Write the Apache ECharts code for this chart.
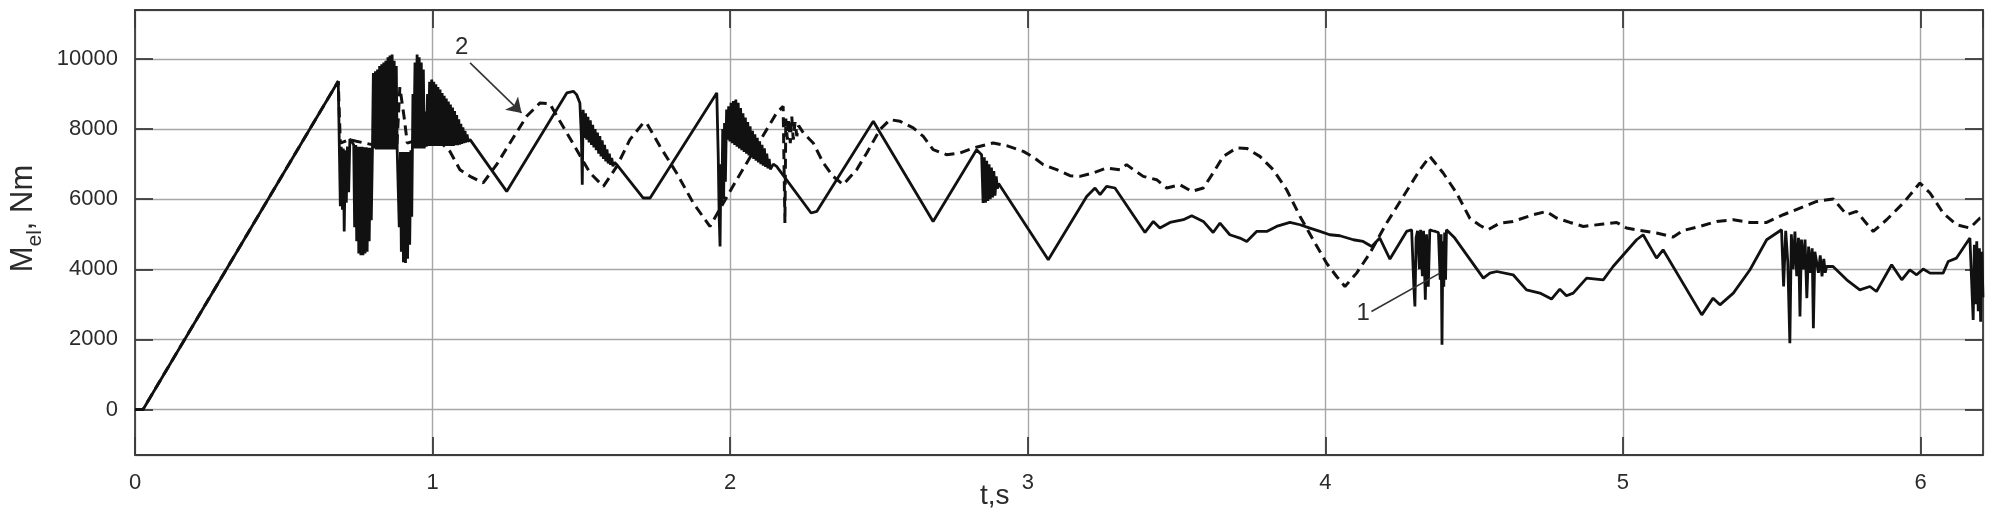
<!DOCTYPE html>
<html>
<head>
<meta charset="utf-8">
<title>M_el(t)</title>
<script src="https://cdn.jsdelivr.net/npm/echarts@6/dist/echarts.min.js"></script>
<style>
  html, body { margin: 0; padding: 0; background: #fff; }
  #chart { width: 1994px; height: 531px; }
</style>
</head>
<body>
<div id="chart"></div>
<script>
// curve 1 (solid) : [t, M_el]
var curve1 = [
  [0, 0], [0.027, 0], [0.683, 9366],
  [0.690, 5800], [0.693, 7500], [0.697, 5700], [0.700, 7450], [0.703, 5080], [0.707, 7400], [0.710, 5900], [0.714, 7500], [0.718, 6200], [0.722, 7720], [0.728, 7650],
  [0.735, 7550], [0.738, 5200], [0.742, 7550], [0.745, 4800], [0.749, 7500], [0.752, 4450], [0.756, 7500], [0.759, 4400], [0.763, 7500], [0.766, 4400], [0.770, 7480], [0.773, 4450], [0.777, 7480], [0.780, 4500], [0.784, 7470], [0.787, 4800], [0.791, 7470], [0.794, 5400], [0.798, 7460],
  [0.801, 9600], [0.804, 7450], [0.808, 9650], [0.811, 7420], [0.815, 9700], [0.818, 7420], [0.822, 9800], [0.825, 7420], [0.829, 9850], [0.832, 7420], [0.836, 9900], [0.839, 7420], [0.843, 9950], [0.846, 7420], [0.850, 10050], [0.853, 7420], [0.857, 10100], [0.860, 7420], [0.864, 10130], [0.867, 7420], [0.871, 9950], [0.874, 7420], [0.878, 9800], [0.881, 7420],
  [0.885, 7400], [0.888, 5200], [0.892, 7350], [0.895, 4500], [0.899, 7350], [0.902, 4200], [0.906, 7350], [0.909, 4180], [0.913, 7350], [0.916, 4300], [0.920, 7350], [0.923, 4700], [0.927, 7400], [0.930, 5500],
  [0.934, 9000], [0.937, 7450], [0.941, 9900], [0.944, 7450], [0.948, 10130], [0.951, 7450], [0.955, 10050], [0.958, 7450], [0.962, 9900], [0.965, 7450], [0.969, 9700], [0.972, 7450], [0.976, 8500], [0.979, 7500],
  [0.983, 9000], [0.986, 7520], [0.990, 9350], [0.993, 7520], [0.997, 9414], [1.000, 7520], [1.004, 9350], [1.007, 7520], [1.011, 9280], [1.014, 7520], [1.018, 9200], [1.021, 7520], [1.025, 9128], [1.028, 7520], [1.032, 9030], [1.035, 7520], [1.039, 8950], [1.042, 7520], [1.046, 8870], [1.049, 7520], [1.053, 8790], [1.056, 7520], [1.060, 8700], [1.063, 7520], [1.067, 8620], [1.070, 7520], [1.074, 8520], [1.077, 7540], [1.081, 8400], [1.084, 7540], [1.088, 8280], [1.091, 7560], [1.095, 8150], [1.098, 7580], [1.102, 8050], [1.105, 7600], [1.109, 7950], [1.112, 7620], [1.116, 7850], [1.119, 7650], [1.126, 7700],
  [1.249, 6223], [1.451, 9034], [1.473, 9080], [1.484, 8985],
  [1.495, 8748], [1.500, 7800], [1.503, 6414], [1.506, 8550], [1.510, 7750], [1.514, 8450], [1.518, 7700], [1.522, 8350], [1.526, 7620], [1.530, 8250], [1.534, 7550], [1.538, 8120], [1.542, 7480], [1.546, 8000], [1.550, 7400], [1.554, 7900], [1.558, 7300], [1.562, 7800], [1.566, 7220], [1.570, 7680], [1.574, 7150], [1.578, 7550], [1.582, 7080], [1.586, 7420], [1.590, 7020], [1.594, 7300], [1.598, 6980], [1.602, 7180], [1.606, 6940], [1.612, 7050], [1.619, 6986],
  [1.708, 6034], [1.731, 6034], [1.955, 9034],
  [1.960, 7200], [1.963, 5500], [1.966, 4651], [1.969, 7000], [1.972, 5900], [1.975, 8000], [1.978, 6000], [1.981, 8177], [1.984, 6500], [1.988, 8557], [1.991, 7700], [1.995, 8650], [1.999, 7650], [2.003, 8750], [2.007, 7600], [2.011, 8800], [2.015, 7550], [2.019, 8843], [2.023, 7500], [2.027, 8750], [2.031, 7450], [2.035, 8600], [2.039, 7400], [2.043, 8450], [2.047, 7350], [2.051, 8330], [2.055, 7300], [2.059, 8200], [2.063, 7250], [2.067, 8080], [2.071, 7200], [2.075, 7950], [2.079, 7150], [2.083, 7850], [2.087, 7100], [2.091, 7750], [2.095, 7050], [2.099, 7650], [2.103, 7000], [2.107, 7550], [2.111, 6960], [2.115, 7450], [2.119, 6920], [2.123, 7300], [2.127, 6880], [2.131, 7150], [2.135, 6850], [2.145, 7000], [2.156, 6937],
  [2.272, 5606], [2.291, 5651], [2.481, 8223], [2.682, 5366], [2.828, 7414], [2.845, 7271],
  [2.850, 5891], [2.854, 7200], [2.858, 5900], [2.862, 7100], [2.866, 5950], [2.870, 7000], [2.874, 6000], [2.878, 6900], [2.882, 6050], [2.886, 6800], [2.890, 6100], [2.894, 6650], [2.898, 6300], [2.902, 6450],
  [3.069, 4271], [3.198, 6080], [3.226, 6320], [3.243, 6129], [3.265, 6366], [3.293, 6320], [3.394, 5051], [3.422, 5366], [3.444, 5177], [3.478, 5337], [3.523, 5414], [3.551, 5529], [3.590, 5366], [3.623, 5051], [3.646, 5320], [3.679, 4986], [3.713, 4891], [3.736, 4794], [3.769, 5080], [3.803, 5080], [3.836, 5223], [3.881, 5337], [3.915, 5271], [3.948, 5177], [3.982, 5080], [4.015, 4986], [4.049, 4957], [4.094, 4843], [4.127, 4794], [4.156, 4651], [4.183, 4891], [4.217, 4291], [4.273, 5080], [4.290, 5129],
  [4.297, 3600], [4.301, 2937], [4.305, 4900], [4.310, 5100], [4.316, 4000], [4.320, 5129], [4.326, 3800], [4.330, 5100], [4.336, 3129], [4.340, 5000], [4.346, 3500], [4.351, 5129], [4.360, 5100], [4.370, 5080], [4.380, 5050], [4.386, 3700], [4.389, 5000], [4.392, 1850], [4.395, 4800], [4.398, 3500], [4.401, 5050], [4.404, 3700], [4.407, 5129],
  [4.435, 4891], [4.531, 3749], [4.553, 3891], [4.576, 3937], [4.631, 3843], [4.676, 3414], [4.721, 3320], [4.760, 3149], [4.788, 3434], [4.810, 3243], [4.833, 3320], [4.878, 3749], [4.934, 3700], [4.967, 4080], [5.046, 4843], [5.068, 4986], [5.113, 4320], [5.135, 4557], [5.265, 2700], [5.303, 3177], [5.326, 2986], [5.371, 3320], [5.427, 3986], [5.483, 4843], [5.533, 5129],
  [5.540, 3509], [5.547, 5100], [5.554, 4200], [5.561, 1891], [5.566, 5000], [5.572, 4000], [5.578, 5080], [5.584, 3800], [5.590, 4900], [5.595, 2651], [5.600, 4850], [5.606, 4000], [5.612, 4850], [5.618, 3177], [5.624, 4650], [5.630, 3900], [5.636, 4600], [5.640, 2320], [5.645, 4500], [5.651, 4463], [5.657, 3900], [5.663, 4400], [5.669, 3800], [5.675, 4300], [5.680, 3900],
  [5.684, 4080], [5.706, 4080], [5.752, 3700], [5.796, 3414], [5.830, 3509], [5.852, 3366], [5.903, 4129], [5.937, 3700], [5.964, 3986], [5.987, 3843], [6.009, 4006], [6.032, 3891], [6.076, 3891], [6.093, 4223], [6.121, 4320], [6.166, 4891],
  [6.177, 2557], [6.181, 4700], [6.185, 3000], [6.189, 4800], [6.194, 2800], [6.198, 4600], [6.202, 2500], [6.206, 4500], [6.210, 3200]
];

// curve 2 (dashed)
var curve2 = [
  [0, 0], [0.027, 0], [0.683, 9366], [0.690, 7600], [0.72, 7700], [0.80, 7550], [0.88, 7500], [0.89, 9200], [0.905, 8300], [0.915, 7600],
  [0.95, 7700], [1.00, 7700], [1.03, 7600], [1.058, 7366], [1.092, 6843], [1.126, 6652], [1.170, 6463], [1.215, 6986], [1.260, 7606], [1.316, 8366], [1.361, 8748], [1.394, 8720],
  [1.428, 8223], [1.484, 7414], [1.529, 6749], [1.574, 6366], [1.619, 6937], [1.663, 7700], [1.708, 8177], [1.719, 8177], [1.764, 7509], [1.820, 6749], [1.876, 5891], [1.932, 5223],
  [1.977, 5891], [2.022, 6557], [2.089, 7509], [2.156, 8462], [2.178, 8652],
  [2.182, 8700], [2.184, 5320], [2.187, 8300], [2.192, 7700], [2.197, 8300], [2.202, 7600], [2.207, 8366], [2.212, 7700], [2.218, 8200], [2.224, 7800], [2.230, 8100],
  [2.246, 7891], [2.279, 7606], [2.313, 7034], [2.346, 6652], [2.380, 6414], [2.425, 6843], [2.459, 7320], [2.503, 7986], [2.537, 8271], [2.571, 8223], [2.615, 8034], [2.649, 7794],
  [2.682, 7414], [2.727, 7271], [2.772, 7320], [2.817, 7463], [2.884, 7606], [2.929, 7528], [2.985, 7366], [3.018, 7206], [3.052, 6986], [3.097, 6843], [3.142, 6671], [3.175, 6652],
  [3.220, 6749], [3.265, 6891], [3.310, 6843], [3.332, 6986], [3.355, 6843], [3.388, 6652], [3.433, 6557], [3.467, 6320], [3.511, 6414], [3.551, 6223], [3.590, 6320], [3.623, 6749],
  [3.657, 7223], [3.702, 7463], [3.736, 7450], [3.780, 7223], [3.825, 6843], [3.870, 6271], [3.915, 5509], [3.959, 4843], [4.004, 4177], [4.038, 3794], [4.066, 3509], [4.105, 3891],
  [4.150, 4463], [4.206, 5320], [4.262, 6080], [4.318, 6843], [4.351, 7223], [4.396, 6749], [4.441, 6177], [4.486, 5450], [4.520, 5250], [4.547, 5129], [4.587, 5320], [4.631, 5366],
  [4.699, 5557], [4.743, 5651], [4.777, 5463], [4.822, 5337], [4.867, 5223], [4.934, 5291], [4.979, 5337], [5.012, 5177], [5.057, 5109], [5.113, 5034], [5.169, 4920], [5.203, 5109],
  [5.259, 5223], [5.315, 5366], [5.371, 5414], [5.427, 5337], [5.483, 5337], [5.539, 5557], [5.595, 5748], [5.651, 5937], [5.707, 6006], [5.752, 5557], [5.785, 5651], [5.841, 5080],
  [5.886, 5414], [5.942, 5891], [5.998, 6463], [6.032, 6177], [6.076, 5606], [6.121, 5271], [6.166, 5177], [6.200, 5463], [6.21, 5450]
];

// axis limits
var tMin = 0, tMax = 6.21, tStep = 1;
var mMin = -1300, mMax = 11400;

// callouts "1" and "2" (data coordinates)
var label2 = [1.098, 10320], arrow2 = [[1.126, 9891], [1.299, 8463]];
var label1 = [4.127, 2749], arrow1 = [[4.155, 2794], [4.385, 3891]];

var FONT = 'Liberation Sans, Arial, sans-serif';
var ink = '#2b2b2b';
var frame = '#3c3c3c';

var chart = echarts.init(document.getElementById('chart'));

function xAx(pos, labels) {
  return {
    type: 'value', position: pos, min: tMin, max: tMax, interval: tStep,
    axisLine: { show: true, onZero: false, lineStyle: { color: frame, width: 1.8 } },
    axisTick: { show: true, inside: true, length: 18, lineStyle: { color: frame, width: 1.8 } },
    splitLine: { show: labels, lineStyle: { color: '#a6a6a6', width: 1.4 } },
    axisLabel: {
      show: labels, margin: 17, color: ink, fontFamily: FONT, fontSize: 22,
      showMaxLabel: false,
      formatter: function (v) { return Math.abs(v - Math.round(v)) < 1e-6 ? String(Math.round(v)) : ''; }
    }
  };
}

function yAx(pos, labels) {
  var ax = {
    type: 'value', position: pos, min: mMin, max: mMax, splitNumber: 6,
    axisLine: { show: true, onZero: false, lineStyle: { color: frame, width: 1.8 } },
    axisTick: { show: true, inside: true, length: 18, lineStyle: { color: frame, width: 1.8 } },
    splitLine: { show: labels, lineStyle: { color: '#a6a6a6', width: 1.4 } },
    axisLabel: {
      show: labels, margin: 17, color: ink, fontFamily: FONT, fontSize: 22,
      showMinLabel: false, showMaxLabel: false,
      formatter: function (v) { return v % 2000 === 0 ? String(v) : ''; }
    }
  };
  if (labels) {
    ax.name = '{m|M}{s|el}{m|, Nm}';
    ax.nameLocation = 'middle';
    ax.nameGap = 89;
    ax.nameTextStyle = {
      color: ink,
      padding: [0, 0, 0, 28],
      rich: {
        m: { fontFamily: FONT, fontSize: 31, color: ink, lineHeight: 44 },
        s: { fontFamily: FONT, fontSize: 21, color: ink, lineHeight: 23, verticalAlign: 'bottom' }
      }
    };
  }
  return ax;
}

chart.setOption({
  backgroundColor: '#fff',
  animation: false,
  grid: { left: 135, right: 11, top: 10, bottom: 76, containLabel: false },
  xAxis: [xAx('bottom', true), xAx('top', false)],
  yAxis: [yAx('left', true), yAx('right', false)],
  graphic: [{
    type: 'text', left: 980, top: 482,
    style: { text: 't,s', font: '28px Liberation Sans', fill: ink }
  }],
  series: [
    {
      name: '1', type: 'line', data: curve1, showSymbol: false, symbol: 'none',
      lineStyle: { color: '#111', width: 2.8 }, z: 3,
      markLine: {
        silent: true, animation: false, label: { show: false },
        lineStyle: { color: '#333', width: 1.6, type: 'solid' },
        symbolSize: 14,
        data: [
          [{ coord: arrow2[0], symbol: 'none' }, { coord: arrow2[1], symbol: 'arrow' }],
          [{ coord: arrow1[0], symbol: 'none' }, { coord: arrow1[1], symbol: 'none' }]
        ]
      },
      markPoint: {
        silent: true, animation: false, symbol: 'circle', symbolSize: 1,
        itemStyle: { color: 'rgba(0,0,0,0)' },
        label: { show: true, position: 'inside', formatter: '{b}', color: ink, fontFamily: FONT, fontSize: 24 },
        data: [{ name: '2', coord: label2 }, { name: '1', coord: label1 }]
      }
    },
    {
      name: '2', type: 'line', data: curve2, showSymbol: false, symbol: 'none',
      lineStyle: { color: '#111', width: 3, type: [10, 6] }, z: 4
    }
  ]
});

window.addEventListener('resize', function () {
  chart.resize();
});
</script>
</body>
</html>
